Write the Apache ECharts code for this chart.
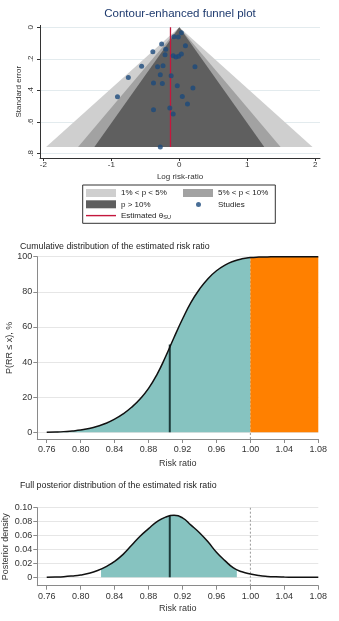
<!DOCTYPE html>
<html><head><meta charset="utf-8">
<script src="https://cdn.jsdelivr.net/npm/echarts@6/dist/echarts.min.js"></script>
<style>html,body{margin:0;padding:0;background:#fff}#c{width:339px;height:621px}</style>
</head><body><div id="c"></div>
<script>
// ---------- Funnel plot data ----------
const studyLogRR = [0.03,-0.08,-0.015,-0.26,0.09,-0.20,-0.39,-0.21,-0.09,-0.05,-0.01,0.03,-0.555,-0.32,-0.24,0.23,-0.28,-0.12,-0.75,-0.38,-0.25,-0.03,0.20,-0.91,0.044,0.12,-0.38,-0.14,-0.09,-0.28];
const studySE = [0.034,0.06,0.061,0.106,0.118,0.139,0.156,0.175,0.18,0.188,0.184,0.169,0.247,0.251,0.245,0.251,0.302,0.308,0.319,0.353,0.357,0.372,0.386,0.441,0.439,0.487,0.523,0.513,0.551,0.76];
const contourNames = ['1% < p < 5%', '5% < p < 10%', 'p > 10%'];
const contourHalfWidth = [1.96, 1.49, 1.25];
const contourColors = ['#cfcfcf', '#a2a2a2', '#5f5f5f'];
const contourMaxSE = 0.76;
const funnelApex = 0;
const thetaSU = -0.13;
const thetaName = 'Estimated θ';
const funnelXTicks = [-2, -1, 0, 1, 2];
const funnelYTicks = [0, 0.2, 0.4, 0.6, 0.8];

// ---------- Posterior data ----------
const rrGrid = [0.76,0.77,0.78,0.79,0.80,0.81,0.82,0.83,0.84,0.85,0.86,0.87,0.88,0.89,0.90,0.91,0.92,0.93,0.94,0.95,0.96,0.97,0.98,0.99,1.00,1.01,1.02,1.03,1.04,1.05,1.06,1.07,1.08];
const cdfPct = [0.1,0.2,0.4,0.8,1.3,2.2,3.5,5.2,7.5,10.5,14.3,19,25,33,43,54,64.5,74,81.5,87.5,92,95.2,97.4,98.8,99.5,99.8,99.9,100,100,100,100,100,100];
const densityVal = [0.0002,0.0005,0.0010,0.0020,0.0034,0.0058,0.0098,0.0155,0.0230,0.0330,0.0460,0.0590,0.0700,0.0800,0.0865,0.0890,0.0855,0.0750,0.0640,0.0510,0.0360,0.0240,0.0135,0.0080,0.0047,0.0025,0.0013,0.0007,0.0004,0.0002,0.0001,0.0001,0.0000];
const crLow = 0.824, crLowDensity = 0.012;
const crHigh = 0.984, crHighDensity = 0.0105;
const medianRR = 0.905, medianCdf = 50, medianDensity = 0.0885;
const nullRR = 1.00;
const rrTicks = [0.76,0.80,0.84,0.88,0.92,0.96,1.00,1.04,1.08];
const cdfTicks = [0,20,40,60,80,100];
const densTicks = [0,0.02,0.04,0.06,0.08,0.10];

const FUN = 'Liberation Sans, Arial, sans-serif';
const NAR = 'Liberation Sans, Arial, sans-serif';
const teal = '#86c3c0', orange = '#ff8000', darkLine = '#1d3a3a';

const pairs = (xs, ys) => xs.map((x, i) => [x, ys[i]]);
const cdfAll = pairs(rrGrid, cdfPct);
const cdfLow = cdfAll.filter(p => p[0] <= nullRR + 1e-9);
const cdfHigh = cdfAll.filter(p => p[0] >= nullRR - 1e-9);
const densAll = pairs(rrGrid, densityVal);
const densCr = [[crLow, crLowDensity]].concat(densAll.filter(p => p[0] > crLow && p[0] < crHigh)).concat([[crHigh, crHighDensity]]);

const contourSeries = contourNames.map((nm, i) => ({
  type: 'custom', name: nm, xAxisIndex: 0, yAxisIndex: 0, silent: true,
  itemStyle: { color: contourColors[i] },
  data: [[funnelApex, contourHalfWidth[i], contourMaxSE]],
  renderItem: (params, api) => {
    const a = api.value(0), hw = api.value(1), se = api.value(2);
    return { type: 'polygon', shape: { points: [api.coord([a - hw, se]), api.coord([a, 0]), api.coord([a + hw, se])] },
      style: { fill: contourColors[i] } };
  },
  z: 1 + i
}));

function lowerX(idx, gap) {
  return {
    gridIndex: idx, type: 'value', min: 0.7489, max: 1.08,
    axisLine: { onZero: false, lineStyle: { color: '#8a8a8a', width: 1 } },
    axisTick: { customValues: rrTicks, length: 4, lineStyle: { color: '#8a8a8a' } },
    axisLabel: { customValues: rrTicks, formatter: v => v.toFixed(2), margin: 6, fontSize: 9, color: '#333', fontFamily: NAR },
    splitLine: { show: false },
    name: 'Risk ratio', nameLocation: 'middle', nameGap: gap, nameMoveOverlap: false,
    nameTextStyle: { fontSize: 9, color: '#333', fontFamily: NAR }
  };
}
function lowerY(idx, min, max, ticks, fmt, name, gap) {
  return {
    gridIndex: idx, type: 'value', min: min, max: max,
    axisLine: { show: true, onZero: false, lineStyle: { color: '#8a8a8a', width: 1 } },
    axisTick: { show: true, customValues: ticks, length: 4, lineStyle: { color: '#8a8a8a' } },
    axisLabel: { customValues: ticks, formatter: fmt, margin: 5, fontSize: 9, color: '#333', fontFamily: NAR },
    splitLine: { show: true, lineStyle: { color: '#e6e6e6', width: 1 } },
    name: name, nameLocation: 'middle', nameGap: gap, nameMoveOverlap: false,
    nameTextStyle: { fontSize: 9, color: '#333', fontFamily: NAR }
  };
}

const option = {
  animation: false,
  backgroundColor: '#fff',
  title: [
    { text: 'Contour-enhanced funnel plot', left: 180, top: 8, padding: 0, textAlign: 'center',
      textStyle: { fontSize: 11.5, fontWeight: 'normal', color: '#1e3a6e', fontFamily: FUN } },
    { text: 'Cumulative distribution of the estimated risk ratio', left: 20, top: 242, padding: 0,
      textStyle: { fontSize: 8.8, fontWeight: 'normal', color: '#222', fontFamily: NAR } },
    { text: 'Full posterior distribution of the estimated risk ratio', left: 20, top: 481.5, padding: 0,
      textStyle: { fontSize: 8.8, fontWeight: 'normal', color: '#222', fontFamily: NAR } }
  ],
  grid: [
    { left: 40, top: 25.4, width: 280, height: 132.6, outerBoundsMode: 'none', containLabel: false },
    { left: 37.3, top: 256.7, width: 281, height: 182.3, outerBoundsMode: 'none', containLabel: false },
    { left: 37.3, top: 507.7, width: 281, height: 78, outerBoundsMode: 'none', containLabel: false }
  ],
  legend: [
    { left: 86, top: 189, padding: 0, orient: 'vertical', itemWidth: 30, itemHeight: 8, itemGap: 3.3, selectedMode: false,
      data: [{ name: contourNames[0], icon: 'rect' }, { name: contourNames[2], icon: 'rect' }, { name: thetaName, icon: 'path://M0,0H30V1.4H0Z' }],
      formatter: n => n === thetaName ? '{t|Estimated θ}{s|SU}' : n,
      textStyle: { fontSize: 8, color: '#222', fontFamily: FUN, rich: { t: { fontSize: 8, color: '#222', fontFamily: FUN }, s: { fontSize: 5.5, color: '#222', fontFamily: FUN, padding: [4, 0, 0, 0] } } } },
    { left: 183, top: 189, padding: 0, orient: 'vertical', itemWidth: 30, itemHeight: 8, selectedMode: false,
      data: [{ name: contourNames[1], icon: 'rect' }],
      textStyle: { fontSize: 8, color: '#222', fontFamily: FUN } },
    { left: 183, top: 200.5, padding: 0, orient: 'vertical', itemWidth: 30, itemHeight: 5, selectedMode: false,
      data: [{ name: 'Studies', icon: 'path://M0,2.5L0.01,2.5L0,2.5Z M30,2.5L29.99,2.5L30,2.5Z M13,2.5A2.5,2.5 0 1 0 18,2.5A2.5,2.5 0 1 0 13,2.5Z' }],
      textStyle: { fontSize: 8, color: '#222', fontFamily: FUN } }
  ],
  graphic: [
    { type: 'rect', shape: { x: 82.7, y: 185, width: 192.6, height: 38.3 }, style: { fill: 'none', stroke: '#333', lineWidth: 1 }, silent: true }
  ],
  xAxis: [
    { gridIndex: 0, type: 'value', min: -2.05, max: 2.07,
      axisLine: { onZero: false, lineStyle: { color: '#333', width: 1 } },
      axisTick: { customValues: funnelXTicks, length: 3, lineStyle: { color: '#333' } },
      axisLabel: { customValues: funnelXTicks, margin: 3, fontSize: 8, color: '#333', fontFamily: FUN },
      splitLine: { show: false },
      name: 'Log risk-ratio', nameLocation: 'middle', nameGap: 15, nameMoveOverlap: false,
      nameTextStyle: { fontSize: 8, color: '#333', fontFamily: FUN } },
    lowerX(1, 20),
    lowerX(2, 18)
  ],
  yAxis: [
    { gridIndex: 0, type: 'value', inverse: true, min: -0.012, max: 0.83,
      axisLine: { show: true, onZero: false, lineStyle: { color: '#333', width: 1 } },
      axisTick: { show: true, customValues: funnelYTicks, length: 3, lineStyle: { color: '#333' } },
      axisLabel: { customValues: funnelYTicks, rotate: 90, margin: 5, fontSize: 8, color: '#333', fontFamily: FUN,
        formatter: v => v === 0 ? '0' : String(+v.toFixed(1)).replace('0.', '.') },
      splitLine: { show: true, lineStyle: { color: '#e3ebee', width: 1 } },
      name: 'Standard error', nameLocation: 'middle', nameGap: 17, nameMoveOverlap: false,
      nameTextStyle: { fontSize: 8, color: '#333', fontFamily: FUN } },
    lowerY(1, -3.8, 100, cdfTicks, v => String(v), 'P(RR ≤ x), %', 23),
    lowerY(2, -0.012, 0.10, densTicks, v => v === 0 ? '0' : v.toFixed(2), 'Posterior density', 27)
  ],
  series: contourSeries.concat([
    { type: 'scatter', name: 'Studies', xAxisIndex: 0, yAxisIndex: 0, symbolSize: 5,
      itemStyle: { color: '#1b4a7c' }, data: pairs(studyLogRR, studySE), z: 6 },
    { type: 'line', name: thetaName, xAxisIndex: 0, yAxisIndex: 0, symbol: 'none',
      lineStyle: { color: '#c4173c', width: 1.3 }, itemStyle: { color: '#c4173c' },
      data: [[thetaSU, 0], [thetaSU, contourMaxSE]], z: 5 },
    // CDF panel
    { type: 'line', xAxisIndex: 1, yAxisIndex: 1, symbol: 'none', lineStyle: { color: '#999', width: 1, type: [2, 2] },
      data: [[nullRR, -3.8], [nullRR, 100]], z: 1 },
    { type: 'line', xAxisIndex: 1, yAxisIndex: 1, symbol: 'none', smooth: true, lineStyle: { width: 0 },
      areaStyle: { color: teal, opacity: 1 }, data: cdfLow, z: 2 },
    { type: 'line', xAxisIndex: 1, yAxisIndex: 1, symbol: 'none', smooth: true, lineStyle: { width: 0 },
      areaStyle: { color: orange, opacity: 1 }, data: cdfHigh, z: 2 },
    { type: 'line', xAxisIndex: 1, yAxisIndex: 1, symbol: 'none', smooth: true,
      lineStyle: { color: '#111', width: 1.5 }, data: cdfAll, z: 4 },
    { type: 'line', xAxisIndex: 1, yAxisIndex: 1, symbol: 'none',
      lineStyle: { color: darkLine, width: 2 }, data: [[medianRR, 0], [medianRR, medianCdf]], z: 3 },
    // density panel
    { type: 'line', xAxisIndex: 2, yAxisIndex: 2, symbol: 'none', lineStyle: { color: '#999', width: 1, type: [2, 2] },
      data: [[nullRR, -0.012], [nullRR, 0.10]], z: 1 },
    { type: 'line', xAxisIndex: 2, yAxisIndex: 2, symbol: 'none', smooth: true, lineStyle: { width: 0 },
      areaStyle: { color: teal, opacity: 1 }, data: densCr, z: 2 },
    { type: 'line', xAxisIndex: 2, yAxisIndex: 2, symbol: 'none', smooth: true,
      lineStyle: { color: '#111', width: 1.5 }, data: densAll, z: 4 },
    { type: 'line', xAxisIndex: 2, yAxisIndex: 2, symbol: 'none',
      lineStyle: { color: darkLine, width: 2 }, data: [[medianRR, 0], [medianRR, medianDensity]], z: 3 }
  ])
};
const chart = echarts.init(document.getElementById('c'), null, { renderer: 'canvas' });
chart.setOption(option);
</script></body></html>
